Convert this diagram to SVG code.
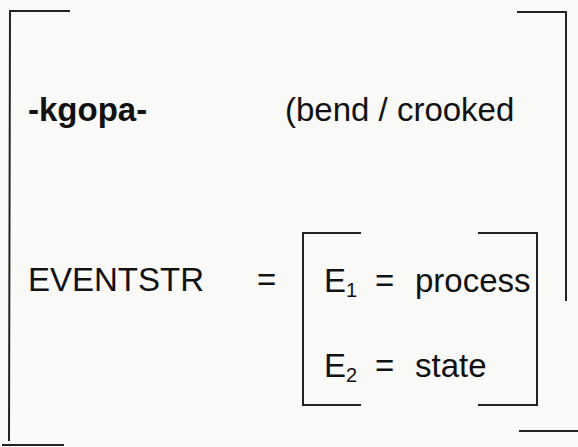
<svg xmlns="http://www.w3.org/2000/svg" width="578" height="447" viewBox="0 0 578 447">
  <style>
    .ln { fill: none; stroke: #222; stroke-width: 2; stroke-linecap: square; }
    .t { font-family: "Liberation Sans", Arial, sans-serif; font-size: 33px; fill: #111; }
    .b { font-weight: bold; }
    .sub { font-size: 20px; }
  </style>
  <rect x="0" y="0" width="578" height="447" fill="#f9f9f8"/>
  <g id="outer-bracket">
    <path class="ln" d="M69,11 L10,11 L9,440"/>
    <path class="ln" d="M3,445 L63,445"/>
    <path class="ln" d="M518,12 L566,12 L566,300"/>
    <path class="ln" d="M520,431 L578,431"/>
  </g>
  <g id="heading">
    <text class="t b" x="28" y="121">-kgopa-</text>
    <text class="t" x="285" y="121">(bend / crooked</text>
  </g>
  <g id="eventstr">
    <text class="t" x="28" y="291">EVENTSTR</text>
    <text class="t" x="257" y="291">=</text>
  </g>
  <g id="inner-bracket">
    <path class="ln" d="M360,233 L303,233 L303,405 L360,405"/>
    <path class="ln" d="M479,233 L537,233 L537,405 L479,405"/>
  </g>
  <g id="e1">
    <text class="t" x="324" y="292">E<tspan class="sub" dy="5">1</tspan></text>
    <text class="t" x="375" y="292">=</text>
    <text class="t" x="415" y="292">process</text>
  </g>
  <g id="e2">
    <text class="t" x="324" y="377">E<tspan class="sub" dy="5">2</tspan></text>
    <text class="t" x="375" y="377">=</text>
    <text class="t" x="415" y="377">state</text>
  </g>
  <g id="connectors"/>
</svg>
